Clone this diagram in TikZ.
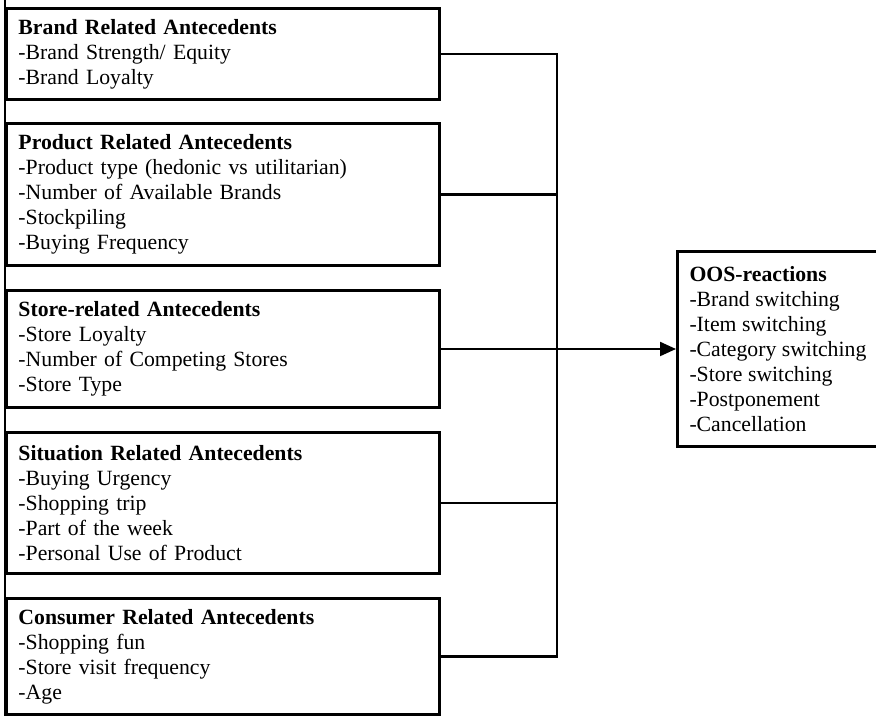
\documentclass[tikz,border=0pt]{standalone}
\usepackage{fontspec}
\setmainfont{Liberation Serif}
\usetikzlibrary{arrows.meta,positioning,calc}

\begin{document}
\begin{tikzpicture}[x=0.75pt,y=-0.75pt,>={Triangle[length=12pt,width=10.5pt]},
    antbox/.style={draw,line width=2.25pt,anchor=north west,align=left,
      text width=306.75pt,inner xsep=9pt,inner ysep=0pt,
      font=\fontsize{16.3}{18.75}\selectfont},
    reactbox/.style={draw,line width=2.25pt,anchor=north west,align=left,
      inner xsep=9pt,inner ysep=0pt,font=\fontsize{16.3}{18.75}\selectfont},
    link/.style={line width=1.6pt}]
      \useasboundingbox (0,0) rectangle (876,716);
      \draw[line width=1.6pt] (5,0)--(5,716);
      \node[antbox,minimum height=68.25pt] (brand) at (5,7)
        {\textbf{Brand Related Antecedents}\\-Brand Strength/ Equity\\-Brand Loyalty};
      \node[antbox,minimum height=106.5pt] (product) at (5,122)
        {\textbf{Product Related Antecedents}\\-Product type (hedonic vs utilitarian)\\-Number of Available Brands\\-Stockpiling\\-Buying Frequency};
      \node[antbox,minimum height=87.75pt] (store) at (5,289)
        {\textbf{Store-related Antecedents}\\-Store Loyalty\\-Number of Competing Stores\\-Store Type};
      \node[antbox,minimum height=105.75pt] (situation) at (5,431)
        {\textbf{Situation Related Antecedents}\\-Buying Urgency\\-Shopping trip\\-Part of the week\\-Personal Use of Product};
      \node[antbox,minimum height=87pt] (consumer) at (5,597)
        {\textbf{Consumer Related Antecedents}\\-Shopping fun\\-Store visit frequency\\-Age};
      \node[reactbox,minimum height=146.25pt] (oos) at (676,250)
        {\textbf{OOS-reactions}\\-Brand switching\\-Item switching\\-Category switching\\-Store switching\\-Postponement\\-Cancellation};
      \coordinate (bus) at (557,0);
      \draw[link] (brand.east) -- (brand.east -| bus) -- (consumer.east -| bus) -- (consumer.east);
      \foreach \b in {product,situation}
        \draw[link] (\b.east) -- (\b.east -| bus);
      \draw[link,->] (store.east) -- (oos.west);
\end{tikzpicture}
\end{document}
